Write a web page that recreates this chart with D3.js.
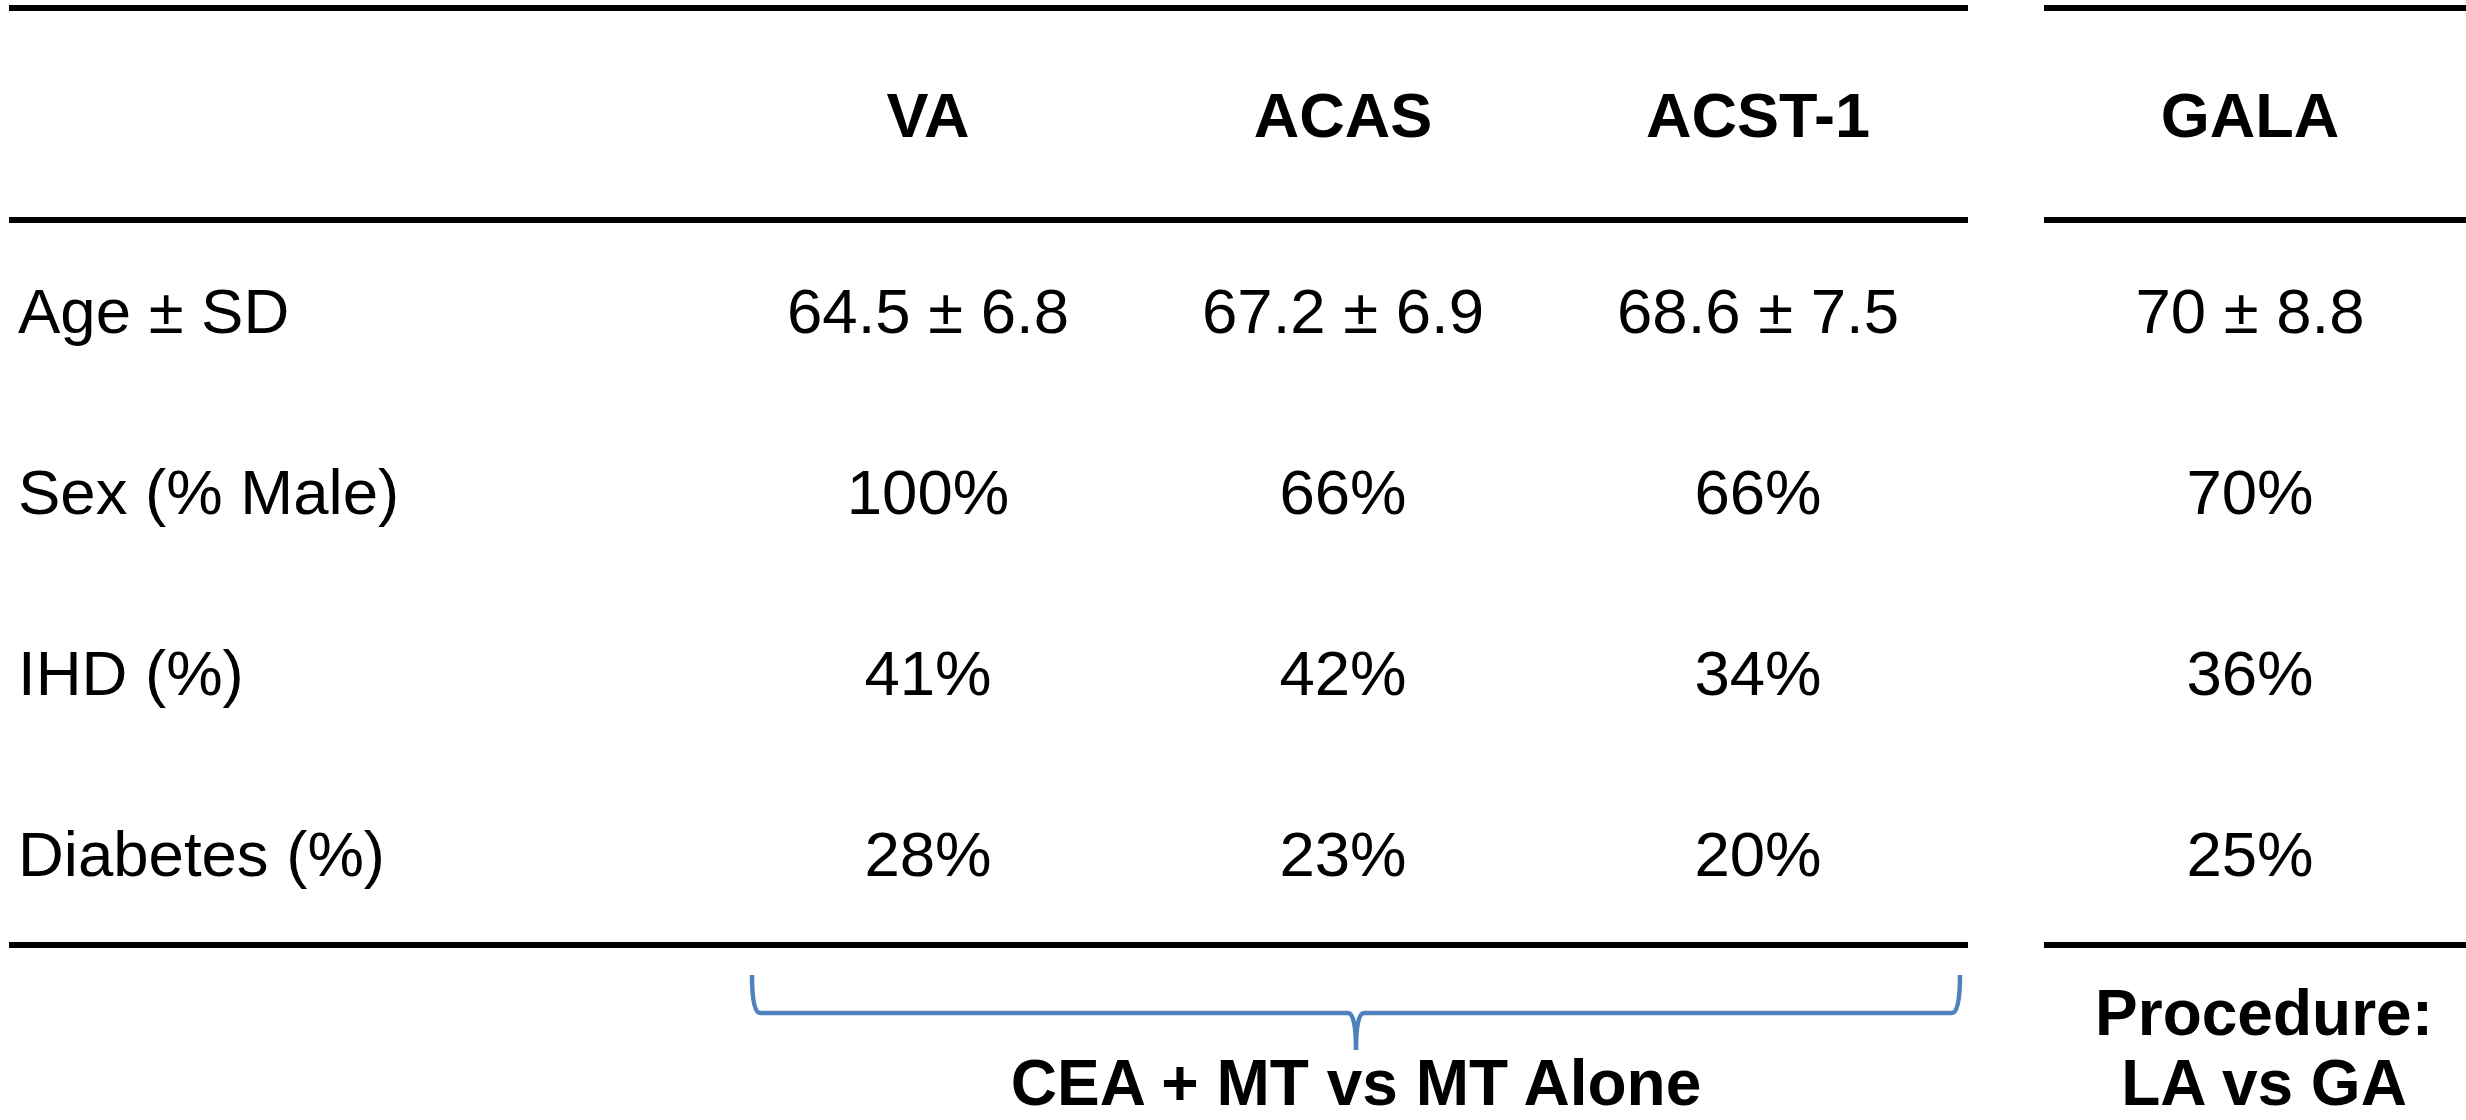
<!DOCTYPE html>
<html lang="en">
<head>
    <meta charset="UTF-8">
    <title>Trial baseline table</title>
    <style>
        body, html {
            margin: 0;
            padding: 0;
            width: 100%;
            height: 100%;
            overflow: hidden;
            background: #fff;
        }
        text {
            font-family: "Liberation Sans", Arial, sans-serif;
            fill: #000;
        }
    </style>
    <script src="https://d3js.org/d3.v7.min.js"></script>
</head>
<body>
    <div id="chart"></div>

    <script>
        const surgeryTrials = ["VA", "ACAS", "ACST-1"];
        const procedureTrials = ["GALA"];
        const rowLabels = ["Age ± SD", "Sex (% Male)", "IHD (%)", "Diabetes (%)"];

        const ageMean = [64.5, 67.2, 68.6, 70];
        const ageSD = [6.8, 6.9, 7.5, 8.8];
        const malePct = [100, 66, 66, 70];
        const ihdPct = [41, 42, 34, 36];
        const diabetesPct = [28, 23, 20, 25];

        const groupLabels = ["CEA + MT vs MT Alone", ["Procedure:", "LA vs GA"]];

        const width = 2466;
        const height = 1120;

        const trials = surgeryTrials.concat(procedureTrials);
        const cells = [
            ageMean.map((m, i) => `${m} ± ${ageSD[i]}`),
            malePct.map(v => `${v}%`),
            ihdPct.map(v => `${v}%`),
            diabetesPct.map(v => `${v}%`)
        ];

        const svg = d3.select("#chart")
            .append("svg")
            .attr("width", width)
            .attr("height", height);

        // column positions: three surgery trials evenly spaced, GALA on its own block
        const xLeft = d3.scalePoint().domain(surgeryTrials).range([928, 1758]);
        const xRight = d3.scalePoint().domain(procedureTrials).range([2250, 2250]);
        const x = t => surgeryTrials.includes(t) ? xLeft(t) : xRight(t);

        const y = d3.scalePoint().domain(rowLabels).range([333, 876]);

        // rules
        const blocks = [[9, 1968], [2044, 2466]];
        const ruleY = [8, 220, 945];
        ruleY.forEach(ry => {
            svg.append("g").selectAll("line")
                .data(blocks)
                .enter().append("line")
                .attr("x1", d => d[0])
                .attr("x2", d => d[1])
                .attr("y1", ry)
                .attr("y2", ry)
                .attr("stroke", "#000")
                .attr("stroke-width", 6);
        });

        // header
        svg.append("g").selectAll("text")
            .data(trials)
            .enter().append("text")
            .attr("x", d => x(d))
            .attr("y", 137)
            .attr("text-anchor", "middle")
            .attr("font-size", 63)
            .attr("font-weight", "bold")
            .text(d => d);

        // row labels
        svg.append("g").selectAll("text")
            .data(rowLabels)
            .enter().append("text")
            .attr("x", 18)
            .attr("y", d => y(d))
            .attr("font-size", 63.5)
            .text(d => d);

        // cell values
        rowLabels.forEach((r, ri) => {
            svg.append("g").selectAll("text")
                .data(trials)
                .enter().append("text")
                .attr("x", d => x(d))
                .attr("y", y(r))
                .attr("text-anchor", "middle")
                .attr("font-size", 63.5)
                .text((d, i) => cells[ri][i]);
        });

        // brace under the surgery trials
        const bx0 = 752, bx1 = 1960, bTop = 975, bMid = 1013, bTip = 1050;
        const bc = (bx0 + bx1) / 2;
        const p = d3.path();
        p.moveTo(bx0, bTop);
        p.quadraticCurveTo(bx0, bMid, bx0 + 8, bMid);
        p.lineTo(bc - 8, bMid);
        p.quadraticCurveTo(bc, bMid, bc, bTip);
        p.moveTo(bx1, bTop);
        p.quadraticCurveTo(bx1, bMid, bx1 - 8, bMid);
        p.lineTo(bc + 8, bMid);
        p.quadraticCurveTo(bc, bMid, bc, bTip);
        svg.append("path")
            .attr("d", p.toString())
            .attr("fill", "none")
            .attr("stroke", "#4f81bd")
            .attr("stroke-width", 4.5);

        svg.append("text")
            .attr("x", bc)
            .attr("y", 1105)
            .attr("text-anchor", "middle")
            .attr("font-size", 64)
            .attr("font-weight", "bold")
            .text(groupLabels[0]);

        svg.append("g").selectAll("text")
            .data(groupLabels[1])
            .enter().append("text")
            .attr("x", 2264)
            .attr("y", (d, i) => 1035 + i * 70)
            .attr("text-anchor", "middle")
            .attr("font-size", 64)
            .attr("font-weight", "bold")
            .text(d => d);
    </script>
</body>
</html>
